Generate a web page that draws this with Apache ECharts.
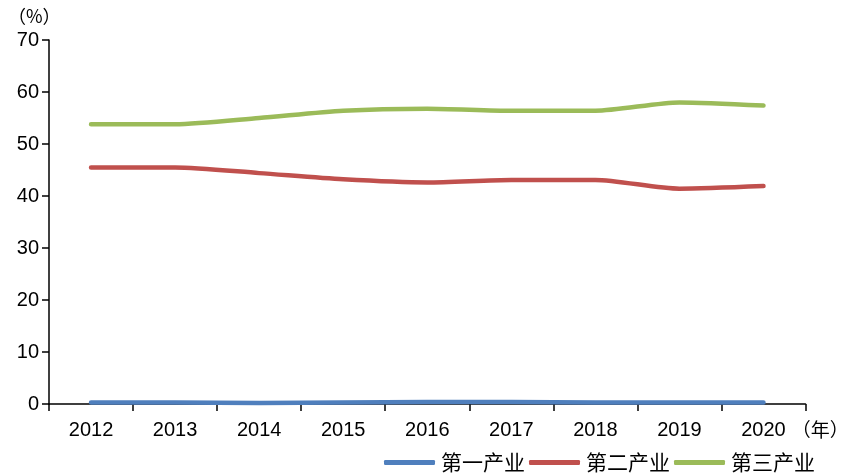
<!DOCTYPE html>
<html>
<head>
<meta charset="utf-8">
<script src="https://cdn.jsdelivr.net/npm/echarts@6/dist/echarts.min.js"></script>
<style>html,body{margin:0;padding:0;background:#fff;}#c{width:851px;height:473px;}</style>
</head>
<body>
<div id="c"></div>
<script>
var years = ['2012','2013','2014','2015','2016','2017','2018','2019','2020'];
var primary = [0.3, 0.3, 0.2, 0.3, 0.4, 0.4, 0.3, 0.3, 0.3];
var secondary = [45.5, 45.5, 44.4, 43.2, 42.6, 43.1, 43.1, 41.4, 41.9];
var tertiary = [53.8, 53.8, 55.0, 56.4, 56.8, 56.4, 56.4, 58.0, 57.4];
var seriesNames = ['第一产业','第二产业','第三产业'];
var yTicks = {min: 0, max: 70, interval: 10};

var chart = echarts.init(document.getElementById('c'));
var axisFont = 'Liberation Sans, Arial, sans-serif';
var cjkFont = '"Noto Sans CJK SC", sans-serif';
function mk(name, data, color) {
  return {
    name: name, type: 'line', data: data, smooth: 0.25,
    showSymbol: false, symbol: 'none',
    lineStyle: {width: 4.5, color: color, cap: 'round', join: 'round'},
    itemStyle: {color: color}
  };
}
chart.setOption({
  animation: false,
  title: {
    text: '（%）', left: 3, top: 2,
    textStyle: {fontFamily: cjkFont, fontSize: 18, fontWeight: 'normal', color: '#000'}
  },
  grid: {left: 49, right: 34, top: 40, bottom: 69, containLabel: false},
  legend: {
    data: seriesNames, left: 384, top: 452, padding: 0, itemGap: 4,
    itemWidth: 51, itemHeight: 5, icon: 'roundRect',
    textStyle: {fontFamily: cjkFont, fontSize: 21, color: '#000', padding: [0,0,0,1]}
  },
  xAxis: {
    type: 'category', data: years, boundaryGap: true,
    name: '（年）', nameLocation: 'end', nameGap: -25,
    nameTextStyle: {fontFamily: cjkFont, fontSize: 19, color: '#000', verticalAlign: 'top', padding: [16,0,0,0]},
    axisLine: {lineStyle: {color: '#000', width: 1.5}},
    axisTick: {show: true, alignWithLabel: false, inside: false, length: 7, lineStyle: {color: '#000', width: 1.5}},
    axisLabel: {fontFamily: axisFont, fontSize: 20, color: '#000', margin: 16},
    splitLine: {show: false}
  },
  yAxis: {
    type: 'value', min: yTicks.min, max: yTicks.max, interval: yTicks.interval,
    axisLine: {show: true, lineStyle: {color: '#000', width: 1.5}},
    axisTick: {show: true, length: 7, lineStyle: {color: '#000', width: 1.5}},
    axisLabel: {fontFamily: axisFont, fontSize: 20, color: '#000', margin: 10},
    splitLine: {show: false}
  },
  series: [
    mk(seriesNames[0], primary, '#4F7FBD'),
    mk(seriesNames[1], secondary, '#C0504D'),
    mk(seriesNames[2], tertiary, '#9BBB59')
  ]
});
</script>
</body>
</html>
